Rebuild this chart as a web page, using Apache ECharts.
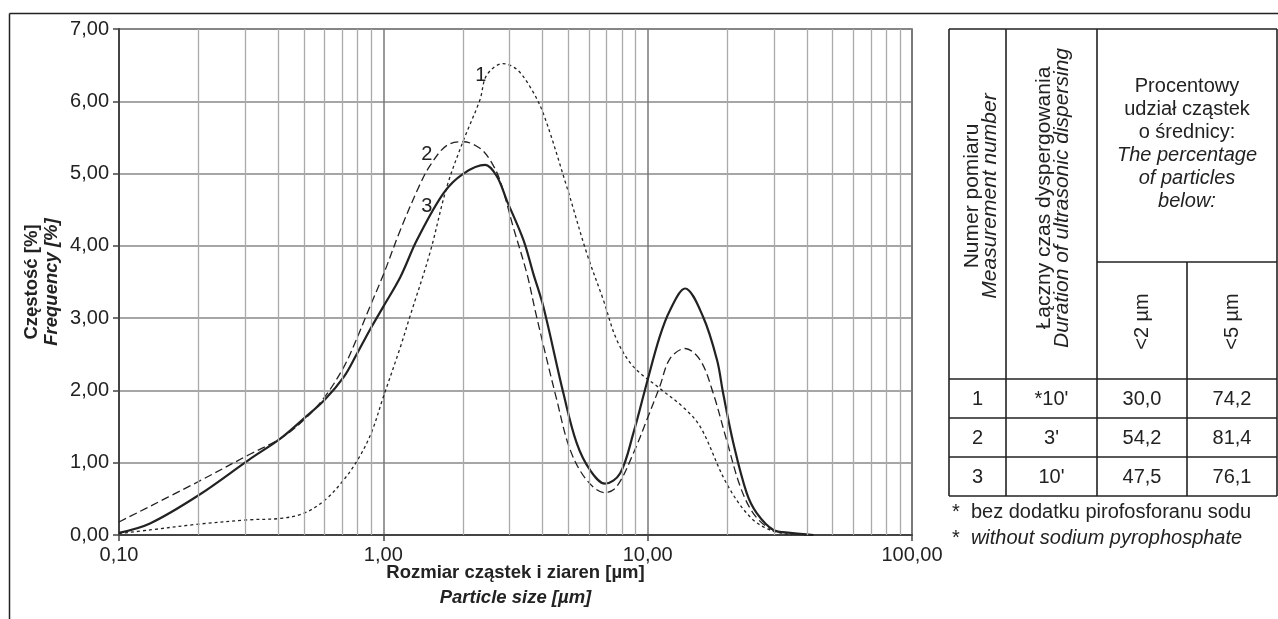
<!DOCTYPE html>
<html>
<head>
<meta charset="utf-8">
<script src="https://cdn.jsdelivr.net/npm/echarts@6/dist/echarts.min.js"></script>
<style>
  html, body { margin: 0; padding: 0; background: #fff; }
  #main { width: 1278px; height: 619px; }
</style>
</head>
<body>
<div id="main"></div>
<script>
// particle size [um] / frequency [%]
const size1 = [0.1, 0.131, 0.2, 0.31, 0.41, 0.5, 0.6, 0.7, 0.8, 0.9, 1.0, 1.16, 1.26, 1.5, 1.74, 2.01, 2.32, 2.46, 2.83, 3.2, 3.59, 4.03, 4.94, 5.88, 6.8, 7.64, 8.83, 11.1, 13.6, 15.8, 19.9, 24.4, 29, 35];
const freq1 = [0.02, 0.07, 0.15, 0.21, 0.23, 0.3, 0.48, 0.74, 1.04, 1.41, 1.91, 2.6, 3.02, 3.9, 4.82, 5.46, 6.02, 6.36, 6.52, 6.44, 6.2, 5.83, 4.82, 3.9, 3.25, 2.7, 2.33, 2.03, 1.77, 1.5, 0.71, 0.25, 0.07, 0.0];

const size2 = [0.1, 0.2, 0.31, 0.41, 0.5, 0.6, 0.71, 0.79, 0.89, 1.0, 1.16, 1.38, 1.52, 1.74, 2.01, 2.32, 2.53, 2.76, 3.1, 3.49, 3.8, 4.53, 5.09, 5.88, 6.9, 7.64, 8.83, 9.92, 11.1, 12.15, 13.85, 15.8, 17.7, 19.9, 22.4, 25.1, 29, 35, 40];
const freq2 = [0.18, 0.74, 1.11, 1.34, 1.59, 1.91, 2.33, 2.7, 3.16, 3.6, 4.22, 4.86, 5.14, 5.39, 5.44, 5.35, 5.19, 4.91, 4.26, 3.62, 3.02, 1.87, 1.18, 0.76, 0.585, 0.67, 1.13, 1.59, 2.05, 2.44, 2.58, 2.42, 1.96, 1.31, 0.67, 0.3, 0.09, 0.02, 0.0];

const size3 = [0.1, 0.131, 0.2, 0.31, 0.41, 0.5, 0.6, 0.71, 0.79, 0.89, 1.0, 1.16, 1.34, 1.69, 2.01, 2.43, 2.69, 2.93, 3.39, 3.69, 4.03, 4.8, 5.39, 6.05, 6.9, 7.86, 8.83, 9.92, 11.1, 12.15, 13.85, 16.2, 18.3, 19.3, 21.1, 23.7, 25.9, 29.9, 34.6, 42.4];
const freq3 = [0.03, 0.16, 0.55, 1.04, 1.34, 1.61, 1.87, 2.19, 2.49, 2.84, 3.16, 3.57, 4.08, 4.73, 5.0, 5.12, 4.96, 4.63, 4.08, 3.62, 3.16, 1.96, 1.27, 0.9, 0.71, 0.85, 1.41, 2.1, 2.74, 3.11, 3.41, 3.02, 2.42, 1.96, 1.27, 0.58, 0.3, 0.07, 0.03, 0.0];

// curve number labels [text, size, frequency]
const curveLabels = [["1", 2.34, 6.36], ["2", 1.46, 5.26], ["3", 1.46, 4.54]];

// minor grid lines of the log axis
const minorTicks = [0.2, 0.3, 0.4, 0.5, 0.6, 0.7, 0.8, 0.9, 2, 3, 4, 5, 6, 7, 8, 9, 20, 30, 40, 50, 60, 70, 80, 90];

// table
const tableRows = [
  ["1", "*10'", "30,0", "74,2"],
  ["2", "3'", "54,2", "81,4"],
  ["3", "10'", "47,5", "76,1"]
];
const subHeaders = ["<2 µm", "<5 µm"];

const FONT = '"Liberation Sans", Arial, sans-serif';
const INK = "#222";

function pairs(xs, ys) {
  return xs.map((x, i) => [x, ys[i]]);
}

function fmt(v) {
  return v.toFixed(2).replace(".", ",");
}

const colX = [949, 1006, 1097, 1187, 1277];
const rowY = [29, 262, 379, 418, 457, 496];

function line(x1, y1, x2, y2, w) {
  return {
    type: "line",
    silent: true,
    shape: { x1: x1, y1: y1, x2: x2, y2: y2 },
    style: { stroke: INK, lineWidth: w || 1.6 }
  };
}

function text(x, y, str, opts) {
  opts = opts || {};
  return {
    type: "text",
    silent: true,
    x: x,
    y: y,
    rotation: opts.rotation || 0,
    style: {
      text: str,
      x: 0,
      y: 0,
      fill: INK,
      font: opts.font || "20px " + FONT,
      align: opts.align || "center",
      verticalAlign: "middle",
      rich: opts.rich
    }
  };
}

function buildTable() {
  const els = [];
  const L = colX[0], R = colX[4];
  // frame of the whole figure
  els.push(line(9.5, 13.5, 1278, 13.5, 1.5));
  els.push(line(9.5, 13.5, 9.5, 619, 1.5));
  // horizontal rules
  els.push(line(L, rowY[0], R, rowY[0]));
  els.push(line(colX[2], rowY[1], R, rowY[1]));
  for (let i = 2; i < rowY.length; i++) els.push(line(L, rowY[i], R, rowY[i]));
  // vertical rules
  [0, 1, 2, 4].forEach((c) => els.push(line(colX[c], rowY[0], colX[c], rowY[5])));
  els.push(line(colX[3], rowY[1], colX[3], rowY[5]));

  const rich = {
    n: { font: "21px " + FONT, fill: INK, lineHeight: 18 },
    i: { font: "italic 21px " + FONT, fill: INK, lineHeight: 18 }
  };
  const midHead = (rowY[0] + rowY[2]) / 2;
  els.push(text((colX[0] + colX[1]) / 2 + 4, midHead - 8,
    "{n|Numer pomiaru}\n{i|Measurement number}", { rotation: Math.PI / 2, rich: rich }));
  els.push(text((colX[1] + colX[2]) / 2 + 2, midHead - 6,
    "{n|Łączny czas dyspergowania}\n{i|Duration of ultrasonic dispersing}", { rotation: Math.PI / 2, rich: rich }));

  const rich2 = {
    n: { font: "20px " + FONT, fill: INK, lineHeight: 23 },
    i: { font: "italic 20px " + FONT, fill: INK, lineHeight: 23 }
  };
  els.push(text((colX[2] + colX[4]) / 2, (rowY[0] + rowY[1]) / 2 - 2,
    "{n|Procentowy}\n{n|udział cząstek}\n{n|o średnicy:}\n{i|The percentage}\n{i|of particles}\n{i|below:}",
    { rich: rich2 }));

  subHeaders.forEach((s, k) => {
    els.push(text((colX[2 + k] + colX[3 + k]) / 2, (rowY[1] + rowY[2]) / 2 + 1, s, { rotation: Math.PI / 2 }));
  });

  tableRows.forEach((row, r) => {
    row.forEach((cell, c) => {
      els.push(text((colX[c] + colX[c + 1]) / 2, (rowY[2 + r] + rowY[3 + r]) / 2 + 1, cell));
    });
  });

  els.push(text(952, 512, "*  bez dodatku pirofosforanu sodu", { align: "left" }));
  els.push(text(952, 538, "{n|*  }{i|without sodium pyrophosphate}", {
    align: "left",
    rich: { n: { font: "20px " + FONT, fill: INK }, i: { font: "italic 20px " + FONT, fill: INK } }
  }));
  return els;
}

const curveStyle = (type, width) => ({ color: INK, width: width, type: type });

const titleRich = (lh) => ({
  a: { fontFamily: FONT, fontWeight: "bold", fontSize: 18.5, color: INK, lineHeight: lh },
  b: { fontFamily: FONT, fontWeight: "bold", fontStyle: "italic", fontSize: 18.5, color: INK, lineHeight: lh }
});

const chartOptions = {
  animation: false,
  backgroundColor: "#fff",
  grid: {
    left: 119, top: 29, width: 793, height: 506,
    show: true, borderColor: "#555", borderWidth: 1.5, backgroundColor: "transparent"
  },
  xAxis: {
    type: "log",
    logBase: 10,
    min: 0.1,
    max: 100,
    name: "{a|Rozmiar cząstek i ziaren [µm]}\n{b|Particle size [µm]}",
    nameLocation: "middle",
    nameGap: 25,
    nameMoveOverlap: false,
    nameTextStyle: {
      verticalAlign: "top",
      fontFamily: FONT,
      fontSize: 18.5,
      fontWeight: "bold",
      rich: titleRich(25)
    },
    axisLine: { lineStyle: { color: "#444", width: 2 } },
    axisTick: { show: true, length: 6, lineStyle: { color: "#444", width: 1.5 } },
    axisLabel: { formatter: fmt, color: INK, fontFamily: FONT, fontSize: 20, margin: 10 },
    splitLine: { show: true, lineStyle: { color: "#777", width: 1.5 } },
    minorTick: { show: false },
    minorSplitLine: { show: false }
  },
  yAxis: {
    type: "value",
    min: 0,
    max: 7,
    interval: 1,
    name: "{a|Częstość [%]}\n{b|Frequency [%]}",
    nameLocation: "middle",
    nameRotate: 90,
    nameGap: 57,
    nameMoveOverlap: false,
    nameTextStyle: {
      fontFamily: FONT,
      fontSize: 18.5,
      fontWeight: "bold",
      rich: titleRich(20)
    },
    axisLine: { show: true, lineStyle: { color: "#444", width: 2 } },
    axisTick: { show: true, length: 6, lineStyle: { color: "#444", width: 1.5 } },
    axisLabel: { formatter: fmt, color: INK, fontFamily: FONT, fontSize: 20, margin: 10 },
    splitLine: { show: true, lineStyle: { color: "#888", width: 1.5 } }
  },
  series: [
    {
      type: "line",
      data: [],
      silent: true,
      markLine: {
        silent: true,
        symbol: "none",
        label: { show: false },
        lineStyle: { color: "#aaa", type: "solid", width: 1.3 },
        data: minorTicks.map((v) => ({ xAxis: v }))
      }
    },
    {
      type: "line", name: "1", data: pairs(size1, freq1), smooth: 0.35,
      showSymbol: false, lineStyle: curveStyle([3, 3], 1.3), z: 3,
      markPoint: {
        symbolSize: 0,
        label: { show: true, color: INK, fontFamily: FONT, fontSize: 20, formatter: "{b}" },
        data: curveLabels.map((c) => ({ name: c[0], coord: [c[1], c[2]] }))
      }
    },
    {
      type: "line", name: "2", data: pairs(size2, freq2), smooth: 0.35,
      showSymbol: false, lineStyle: curveStyle([8, 4], 1.3), z: 3
    },
    {
      type: "line", name: "3", data: pairs(size3, freq3), smooth: 0.35,
      showSymbol: false, lineStyle: curveStyle("solid", 2.2), z: 4
    }
  ],
  graphic: buildTable()
};

const myChart = echarts.init(document.getElementById("main"));
myChart.setOption(chartOptions);
</script>
</body>
</html>
